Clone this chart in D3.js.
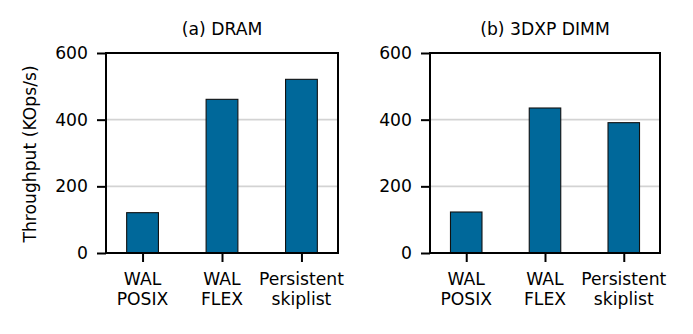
<!DOCTYPE html>
<html>
<head>
<meta charset="utf-8">
<script src="https://cdnjs.cloudflare.com/ajax/libs/d3/7.8.5/d3.min.js"></script>
<style>
  body { margin: 0; background: #fff; }
  text { font-family: "DejaVu Sans", sans-serif; fill: #000; }
</style>
</head>
<body>
<div id="chart"></div>
<script>
// data
const categories = [['WAL', 'POSIX'], ['WAL', 'FLEX'], ['Persistent', 'skiplist']]
const dramValues = [121, 461, 521]
const dimmValues = [123, 435, 391]
const titles = ['(a) DRAM', '(b) 3DXP DIMM']
const yTicks = [0, 200, 400, 600]

const w = 693
const h = 334
const ptop = 53
const pbtm = 253
const fs = '17.2px'
const panels = [
    { left: 106, right: 338, title: titles[0], values: dramValues },
    { left: 430, right: 660, title: titles[1], values: dimmValues }
]

const svg = d3.select('#chart')
    .append('svg')
    .attr('width', w)
    .attr('height', h)

const yScale = d3.scaleLinear()
    .domain([0, 600])
    .range([pbtm, ptop])

panels.forEach((p) => {
    const xScale = d3.scaleLinear()
        .domain([-0.46, 2.46])
        .range([p.left, p.right])
    const barW = xScale(0.4) - xScale(0)

    const g = svg.append('g')

    // grid lines
    g.selectAll('.grid')
        .data(yTicks.filter(t => t > 0 && t < 600))
        .enter()
        .append('line')
        .attr('x1', p.left)
        .attr('x2', p.right)
        .attr('y1', d => yScale(d))
        .attr('y2', d => yScale(d))
        .attr('stroke', '#d3d3d3')
        .attr('stroke-width', 1.6)

    // bars
    g.selectAll('.bar')
        .data(p.values)
        .enter()
        .append('rect')
        .attr('x', (d, i) => xScale(i) - barW / 2)
        .attr('y', d => yScale(d))
        .attr('width', barW)
        .attr('height', d => pbtm - yScale(d))
        .attr('fill', '#00689a')
        .attr('stroke', '#111')
        .attr('stroke-width', 1.1)

    // frame
    g.append('rect')
        .attr('x', p.left)
        .attr('y', ptop)
        .attr('width', p.right - p.left)
        .attr('height', pbtm - ptop)
        .attr('fill', 'none')
        .attr('stroke', '#000')
        .attr('stroke-width', 2)

    // y axis
    const yAxis = d3.axisLeft(yScale)
        .tickValues(yTicks)
        .tickSize(9)
        .tickPadding(9)
    const ya = g.append('g')
        .attr('transform', `translate(${p.left},0)`)
        .call(yAxis)
    ya.select('.domain').remove()
    ya.selectAll('line').attr('stroke', '#000').attr('stroke-width', 2)
    ya.selectAll('text').style('font-size', fs)

    // x axis
    const xAxis = d3.axisBottom(xScale)
        .tickValues([0, 1, 2])
        .tickSize(9)
        .tickFormat('')
    const xa = g.append('g')
        .attr('transform', `translate(0,${pbtm})`)
        .call(xAxis)
    xa.select('.domain').remove()
    xa.selectAll('line').attr('stroke', '#000').attr('stroke-width', 2)

    // x labels
    categories.forEach((c, i) => {
        c.forEach((line, j) => {
            g.append('text')
                .attr('x', xScale(i))
                .attr('y', 285 + j * 20)
                .attr('text-anchor', 'middle')
                .style('font-size', fs)
                .text(line)
        })
    })

    // title
    g.append('text')
        .attr('x', (p.left + p.right) / 2)
        .attr('y', 35)
        .attr('text-anchor', 'middle')
        .style('font-size', fs)
        .text(p.title)
})

// y label
svg.append('text')
    .attr('transform', `translate(36,154) rotate(-90)`)
    .attr('text-anchor', 'middle')
    .style('font-size', fs)
    .text('Throughput (KOps/s)')
</script>
</body>
</html>
